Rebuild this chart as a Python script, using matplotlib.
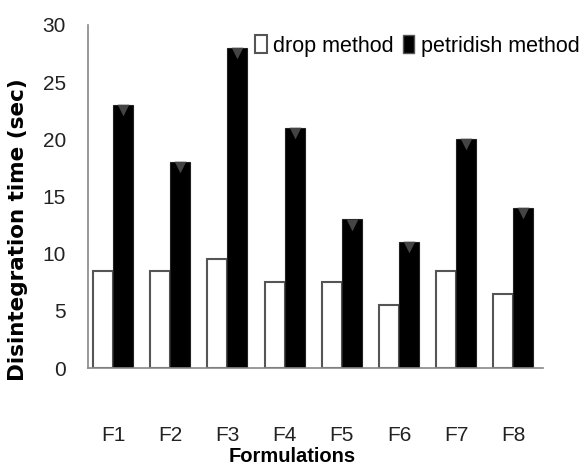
import numpy as np
import matplotlib.pyplot as plt
from matplotlib.patches import Patch

plt.rcParams['font.family'] = ['Liberation Sans', 'DejaVu Sans']

formulations = ['F1', 'F2', 'F3', 'F4', 'F5', 'F6', 'F7', 'F8']
drop_method = [8.5, 8.5, 9.5, 7.5, 7.5, 5.5, 8.5, 6.5]
petri_method = [23, 18, 28, 21, 13, 11, 20, 14]

x = np.arange(len(formulations))
w = 0.35

fig = plt.figure(figsize=(5.84, 4.68), dpi=100)
# axes box: x 88..543 px, y 25..368 px
ax = fig.add_axes([88 / 584, 1 - 368 / 468, 455 / 584, 343 / 468])

ax.bar(x - w / 2, drop_method, w, color='white', edgecolor='#555555', linewidth=1.5,
       label='drop method', zorder=2)
ax.bar(x + w / 2, petri_method, w, color='black', edgecolor='#222222', linewidth=0.8,
       label='petridish method', zorder=2)
# bevel look at top of the dark bars
ax.scatter(x + w / 2, np.array(petri_method) - 0.45, marker='v', s=70, color='#444444',
           linewidths=0, zorder=3)

ax.set_xlim(-0.44, 7.52)
ax.set_ylim(0, 30)
ax.set_yticks(range(0, 31, 5))
ax.set_xticks(x)
ax.set_xticklabels(formulations)
ax.tick_params(axis='both', length=0, labelsize=15, colors='#222222')
ax.tick_params(axis='x', pad=42)
ax.tick_params(axis='y', pad=16)

for s in ['top', 'right']:
    ax.spines[s].set_visible(False)
for s in ['left', 'bottom']:
    ax.spines[s].set_color('#888888')
    ax.spines[s].set_linewidth(1.2)

fig.text(18 / 584, 1 - 230 / 468, 'Disintegration time (sec)', rotation=90,
         ha='center', va='center', family='DejaVu Sans', fontweight='bold', fontsize=15.5)
fig.text(292 / 584, 1 - 456 / 468, 'Formulations', ha='center', va='center',
         fontweight='bold', fontsize=14.5)

handles = [Patch(facecolor='white', edgecolor='#555555', linewidth=1.5),
           Patch(facecolor='black', edgecolor='#555555', linewidth=1.0)]
fig.legend(handles, ['drop method', 'petridish method'], loc='center right',
           bbox_to_anchor=(1.0, 1 - 46 / 468), ncol=2, frameon=False, fontsize=15.5,
           handlelength=0.55, handleheight=0.9, handletextpad=0.3, columnspacing=0.4,
           borderpad=0.1, borderaxespad=0.1)

fig.savefig('out.png', dpi=100)
